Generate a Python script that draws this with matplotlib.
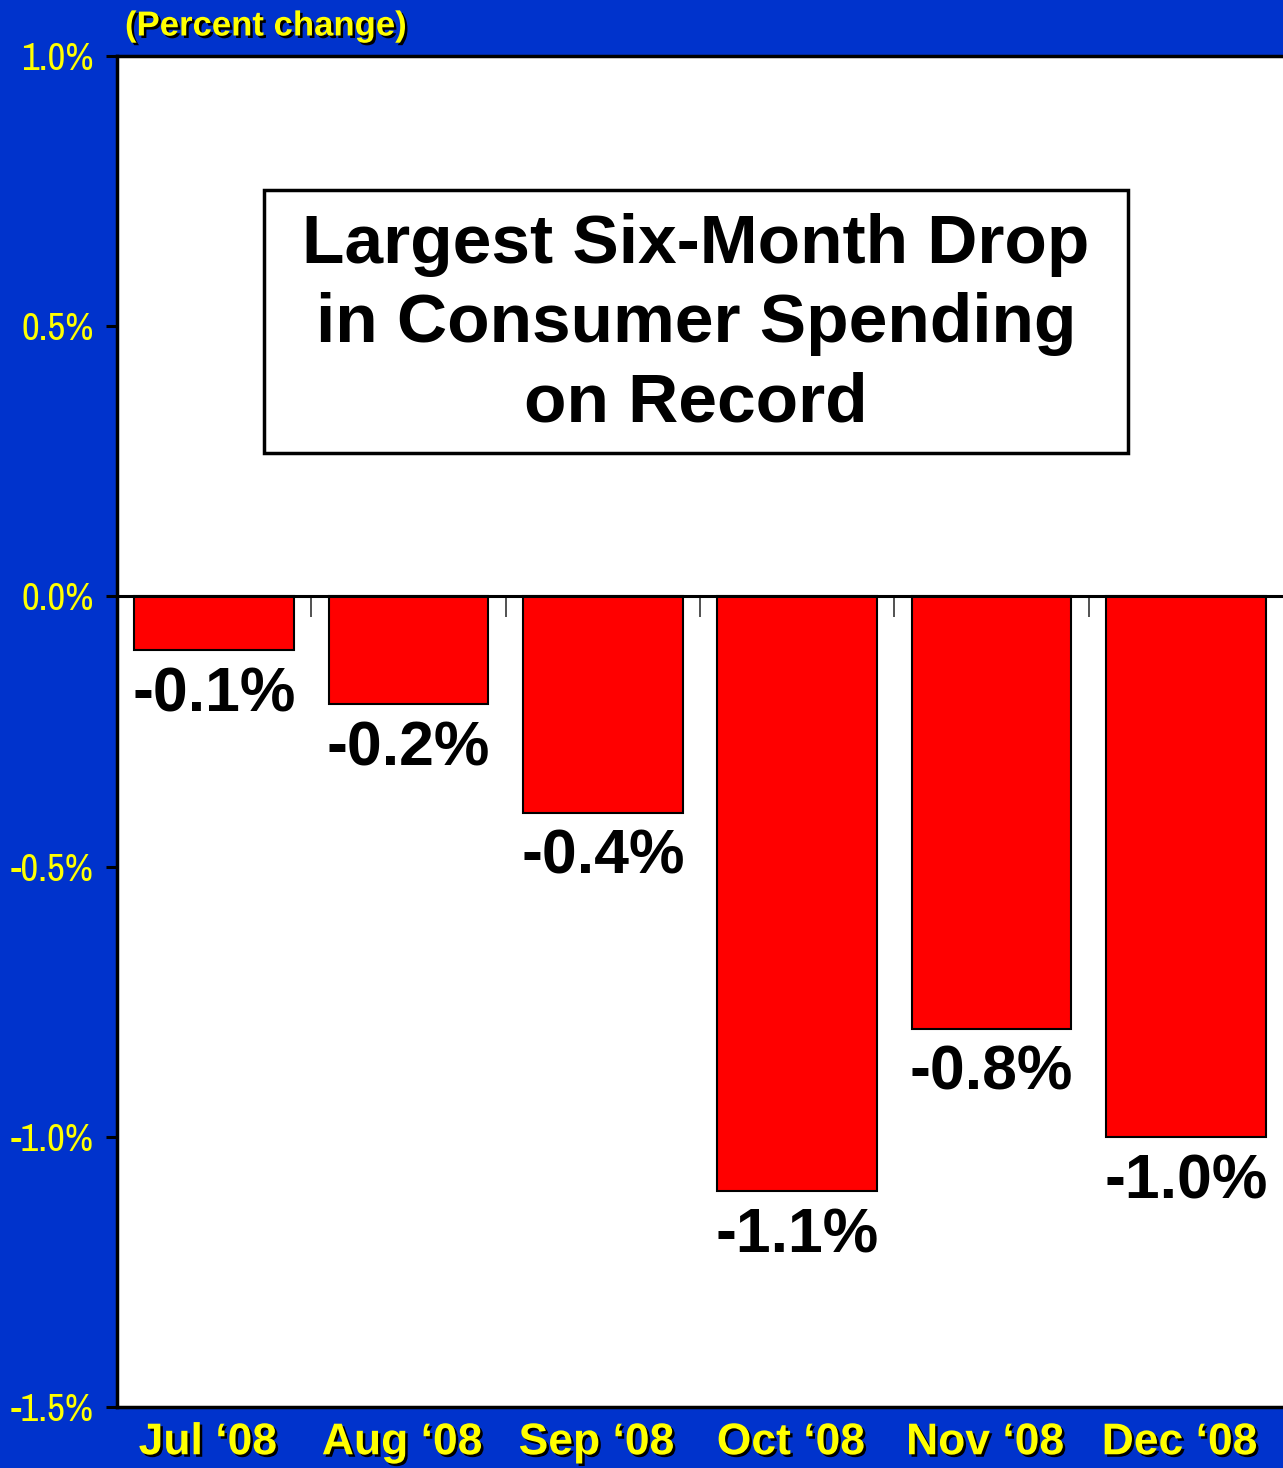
import matplotlib
matplotlib.use("Agg")
import matplotlib.pyplot as plt
import matplotlib.patheffects as pe
from matplotlib import font_manager
from matplotlib.patches import Rectangle
import numpy as np

# data
months = ["Jul \u201808", "Aug \u201808", "Sep \u201808", "Oct \u201808", "Nov \u201808", "Dec \u201808"]
pct_change = [-0.1, -0.2, -0.4, -1.1, -0.8, -1.0]
yticks = [-1.5, -1.0, -0.5, 0.0, 0.5, 1.0]

blue = "#0033CC"
yellow = "#FFFF00"
shadow = [pe.SimplePatchShadow(offset=(1.8, -1.8), shadow_rgbFace="black", alpha=1.0), pe.Normal()]

plt.rcParams["font.family"] = ["Liberation Sans", "DejaVu Sans"]

# y labels in the original use a narrow face; take one if the system has it
names = sorted({f.name for f in font_manager.fontManager.ttflist})
narrow = None
if "Liberation Sans Narrow" in names:
    narrow = "Liberation Sans Narrow"
else:
    for n in names:
        if "Narrow" in n or "Condensed" in n:
            narrow = n
            break
if narrow:
    ytick_font = dict(family=[narrow, "Liberation Sans"], fontsize=28)
else:
    ytick_font = dict(family=["Liberation Sans"], fontsize=22.5)

fig = plt.figure(figsize=(12.83, 14.68), dpi=100, facecolor=blue)
ax = fig.add_axes([117 / 1283, 1 - 1407 / 1468, 1 - 117 / 1283, (1407 - 56) / 1468])
ax.set_facecolor("white")

x = np.arange(len(months))
ax.bar(x, pct_change, width=0.82, color="#FF0000", edgecolor="black", linewidth=1.5, zorder=2)

# value labels under each bar
for xi, v in zip(x, pct_change):
    ax.annotate(f"{v:.1f}%", (xi, v), xytext=(0, -11), textcoords="offset points",
                ha="center", va="top", fontsize=45, fontweight="bold", color="black")

ax.set_xlim(-0.5, len(months) - 0.5)
ax.set_ylim(-1.5, 1.0)
ax.set_yticks(yticks)
ax.set_yticklabels([f"{t:.1f}%" for t in yticks], color=yellow, **ytick_font)
ax.tick_params(axis="y", direction="out", length=8, width=2.2, color="black", pad=9)

# month labels sit a little left of the bar centres in the original
ax.set_xticks(x)
ax.set_xticklabels([m + "\u00a0" for m in months], color=yellow, fontsize=32, fontweight="bold")
for lbl in ax.get_xticklabels():
    lbl.set_path_effects(shadow)
ax.tick_params(axis="x", length=0, pad=11)

for side in ["left", "top", "bottom"]:
    ax.spines[side].set_linewidth(2.5)
    ax.spines[side].set_color("black")
ax.spines["right"].set_visible(False)

# zero line with category separator ticks hanging below it
zero_ax = ax.secondary_xaxis(1.5 / 2.5)
zero_ax.set_xticks(x[:-1] + 0.5)
zero_ax.set_xticklabels([])
zero_ax.tick_params(direction="in", length=15, width=1.2, color="#333333")
zero_ax.spines["bottom"].set_linewidth(2.2)
ax.axhline(0, color="black", linewidth=2.2, zorder=3)

# title box
ax.add_patch(Rectangle((147 / 1166, 954 / 1351), 864 / 1166, 263 / 1351, transform=ax.transAxes,
                       facecolor="white", edgecolor="black", linewidth=2.5, zorder=4))
ax.text(0.4966, 0.8015, "Largest Six-Month Drop\nin Consumer Spending\non Record", transform=ax.transAxes,
        ha="center", va="center", fontsize=50, fontweight="bold", linespacing=1.3, zorder=5)

fig.text(125 / 1283, 1 - 26 / 1468, "(Percent change)", ha="left", va="center",
         fontsize=25, fontweight="bold", color=yellow, path_effects=shadow)

fig.savefig("out.png", dpi=100, facecolor=blue)
